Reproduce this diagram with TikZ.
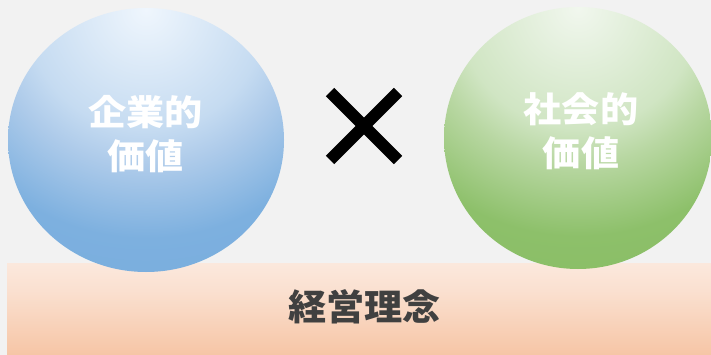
\documentclass[tikz,border=0pt]{standalone}
\usepackage{fontspec}
\newfontfamily\cjkball[FakeStretch=1.09]{Noto Sans CJK JP}
\newfontfamily\cjkbar[FakeStretch=1.06]{Noto Sans CJK JP}
\definecolor{bg}{HTML}{F2F2F2}
\definecolor{blueA}{HTML}{EFF6FD}
\definecolor{blueB}{HTML}{C5DBF1}
\definecolor{blueC}{HTML}{AECBEA}
\definecolor{blueD}{HTML}{7DB0DF}
\definecolor{blueE}{HTML}{74AADC}
\definecolor{greenA}{HTML}{F1F7EE}
\definecolor{greenB}{HTML}{D0E5C3}
\definecolor{greenC}{HTML}{B8D7A2}
\definecolor{greenD}{HTML}{8DC06A}
\definecolor{greenE}{HTML}{85BA5F}
\definecolor{barA}{HTML}{FEF6F2}
\definecolor{barB}{HTML}{FAE0D0}
\definecolor{barC}{HTML}{F6C3A2}
\definecolor{barD}{HTML}{F8CCB2}
\definecolor{txt}{HTML}{404040}
\pgfdeclareradialshading{blueball}{\pgfpoint{0bp}{0bp}}{color(0bp)=(blueA); color(10bp)=(blueB); color(13bp)=(blueC); color(19bp)=(blueD); color(30bp)=(blueE)}
\pgfdeclareradialshading{greenball}{\pgfpoint{0bp}{0bp}}{color(0bp)=(greenA); color(10bp)=(greenB); color(13bp)=(greenC); color(19bp)=(greenD); color(30bp)=(greenE)}
\pgfdeclareverticalshading{barshade}{100bp}{color(0bp)=(barD); color(22bp)=(barC); color(60bp)=(barB); color(100bp)=(barA)}
\tikzset{
  balltext/.style={text=white, font=\cjkball\bfseries\fontsize{35}{44}\selectfont, align=center, inner sep=0pt},
  bartext/.style={text=txt, font=\cjkbar\bfseries\fontsize{36}{40}\selectfont, inner sep=0pt},
  crossline/.style={line width=12pt, black}
}
\begin{document}
\begin{tikzpicture}[x=1pt,y=-1pt]
\fill[bg] (0,0) rectangle (711,355);
\useasboundingbox (0,0) rectangle (711,355);
\shade[shading=barshade] (7,263) rectangle (711,355);
\node[bartext] (base) at (364.5,307) {経営理念};
\begin{scope}
\clip (146,140) ellipse [x radius=138, y radius=132];
\shade[shading=blueball] (146,10) circle (300);
\end{scope}
\begin{scope}
\clip (578,138) ellipse [x radius=134, y radius=131];
\shade[shading=greenball] (578,8) circle (300);
\end{scope}
\node[balltext] (corp) at (145.5,134.5) {企業的\\価値};
\node[balltext] (soc) at (581,131.5) {社会的\\価値};
\coordinate (xa) at (330,92);
\coordinate (xb) at (398,160);
\coordinate (xc) at (398,92);
\coordinate (xd) at (330,160);
\draw[crossline] (xa) -- (xb);
\draw[crossline] (xc) -- (xd);
\end{tikzpicture}
\end{document}
